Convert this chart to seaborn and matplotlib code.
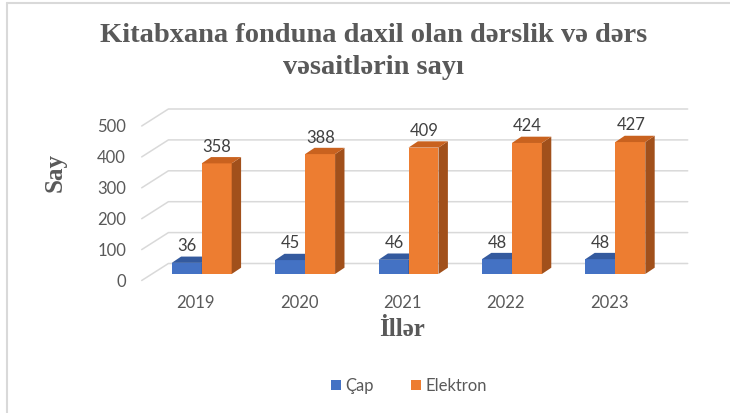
import matplotlib
matplotlib.use("Agg")
import matplotlib.pyplot as plt
from matplotlib.transforms import offset_copy
from matplotlib.patches import Polygon, Patch
from matplotlib.lines import Line2D
import seaborn as sns
import pandas as pd

# ---- data ----
years = ["2019", "2020", "2021", "2022", "2023"]
cap_values = [36, 45, 46, 48, 48]
elektron_values = [358, 388, 409, 424, 427]
series_names = ["Çap", "Elektron"]
y_ticks = [0, 100, 200, 300, 400, 500]
title_lines = ["Kitabxana fonduna daxil olan dərslik və dərs", "vəsaitlərin sayı"]
x_label = "İllər"
y_label = "Say"

df = pd.DataFrame({
    "year": years * 2,
    "value": cap_values + elektron_values,
    "type": [series_names[0]] * len(years) + [series_names[1]] * len(years),
})

# ---- style ----
sns.set_theme(style="white")
plt.rcParams["font.family"] = ["Lato", "DejaVu Sans"]

BLUE = "#4472C4"
BLUE_TOP = "#345A9E"
BLUE_SIDE = "#2F528F"
ORANGE = "#ED7D31"
ORANGE_TOP = "#C9621F"
ORANGE_SIDE = "#A1501B"
GRAY = "#595959"
GRID = "#D9D9D9"

W_PX, H_PX = 730, 413
fig = plt.figure(figsize=(W_PX / 100, H_PX / 100), dpi=100)

# axes = front plane of the 3D box
ax_left_px, ax_right_px = 141.7, 661.0
ax_bottom_px, px_per_unit = 280.5, 0.309
ymax = 560
cat0_px, cat_step_px = 195.7, 103.4
ax = fig.add_axes([ax_left_px / W_PX,
                   1 - ax_bottom_px / H_PX,
                   (ax_right_px - ax_left_px) / W_PX,
                   ymax * px_per_unit / H_PX])

sns.barplot(data=df, x="year", y="value", hue="type",
            palette=[BLUE, ORANGE], width=0.58, saturation=1,
            legend=False, ax=ax, errorbar=None)

xl = (ax_left_px - cat0_px) / cat_step_px
xr = (ax_right_px - cat0_px) / cat_step_px
ax.set_xlim(xl, xr)
ax.set_ylim(0, ymax)
for s in ax.spines.values():
    s.set_visible(False)
ax.set_facecolor("none")
ax.set_xlabel("")
ax.set_ylabel("")

# pixel -> data offsets
sx = cat_step_px
sy = px_per_unit
def off(px, py):
    return px / sx, py / sy

FRONT = (6.0, 6.5)
DEPTH = (9.4, 6.3)
WALL = (26.7, 17.0)

# back wall + side gridlines
wdx, wdy = off(*WALL)
for v in y_ticks:
    ax.plot([xl, xl + wdx, xr + wdx], [v, v + wdy, v + wdy],
            color=GRID, lw=1.1, zorder=0, clip_on=False)

# 3D bars
front_tr = offset_copy(ax.transData, fig=fig, x=FRONT[0], y=FRONT[1], units="dots")
label_tr = offset_copy(ax.transData, fig=fig, x=FRONT[0] + 0.5,
                       y=FRONT[1] + 11.6, units="dots")
ddx, ddy = off(*DEPTH)
n = len(years)
for i, p in enumerate(ax.patches):
    is_blue = i < n
    z = 2 if is_blue else 4
    top_c = BLUE_TOP if is_blue else ORANGE_TOP
    side_c = BLUE_SIDE if is_blue else ORANGE_SIDE
    x0, w, h = p.get_x(), p.get_width(), p.get_height()
    p.set_transform(front_tr)
    p.set_zorder(z)
    p.set_edgecolor("none")
    p.set_clip_on(False)
    side = Polygon([(x0 + w, 0), (x0 + w + ddx, ddy), (x0 + w + ddx, h + ddy), (x0 + w, h)],
                   closed=True, facecolor=side_c, edgecolor="none",
                   transform=front_tr, zorder=z, clip_on=False)
    top = Polygon([(x0, h), (x0 + w, h), (x0 + w + ddx, h + ddy), (x0 + ddx, h + ddy)],
                  closed=True, facecolor=top_c, edgecolor="none",
                  transform=front_tr, zorder=z, clip_on=False)
    ax.add_patch(side)
    ax.add_patch(top)
    ax.text(x0 + w / 2, h, f"{int(round(h))}", transform=label_tr,
            ha="center", va="baseline", fontsize=12, color="#404040", zorder=6)

# ticks
ax.set_yticks(y_ticks)
ax.set_yticklabels([str(v) for v in y_ticks])
ax.tick_params(axis="y", length=0, pad=11.3, labelsize=12, labelcolor=GRAY)
ax.tick_params(axis="x", length=0, pad=10.4, labelsize=12, labelcolor=GRAY)

# titles / labels
serif = ["Liberation Serif", "DejaVu Serif"]
fig.text(374 / W_PX, 1 - 36 / H_PX, title_lines[0], ha="center", va="center",
         fontsize=20.5, fontweight="bold", family=serif, color=GRAY)
fig.text(373 / W_PX, 1 - 67 / H_PX, title_lines[1], ha="center", va="center",
         fontsize=20.5, fontweight="bold", family=serif, color=GRAY)
fig.text(402 / W_PX, 1 - 330 / H_PX, x_label, ha="center", va="center",
         fontsize=18, fontweight="bold", family=serif, color=GRAY)
fig.text(55 / W_PX, 1 - 172 / H_PX, y_label, ha="center", va="center", rotation=90,
         fontsize=18, fontweight="bold", family=serif, color=GRAY)

# legend
handles = [Patch(facecolor=BLUE, edgecolor="none"), Patch(facecolor=ORANGE, edgecolor="none")]
fig.legend(handles, series_names, loc="center", bbox_to_anchor=(409 / W_PX, 1 - 386 / H_PX),
           ncol=2, frameon=False, fontsize=12, labelcolor=GRAY,
           handlelength=0.6, handleheight=0.6, handletextpad=0.3, columnspacing=2.2)

# chart frame
fig.add_artist(Line2D([7 / W_PX, 7 / W_PX], [0, 1 - 3 / H_PX], color=GRID, lw=1.5,
                      transform=fig.transFigure))
fig.add_artist(Line2D([7 / W_PX, 1], [1 - 3 / H_PX, 1 - 3 / H_PX], color=GRID, lw=1.5,
                      transform=fig.transFigure))

fig.savefig("out.png", dpi=100, facecolor="white")
